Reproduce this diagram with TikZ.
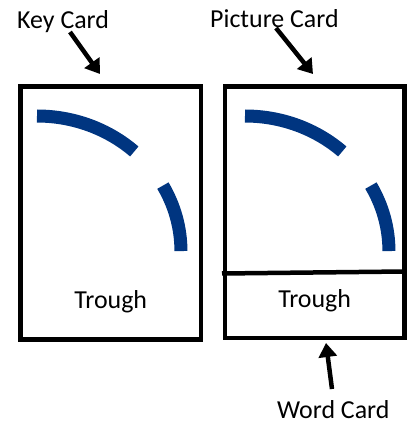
\documentclass[tikz,border=0pt]{standalone}
\usepackage{fontspec}
\setmainfont{Carlito}
\usetikzlibrary{arrows.meta}
\definecolor{troughblue}{RGB}{0,53,128}
\tikzset{x=1bp, y=1bp,
    card/.style={draw, line width=4.5bp, inner sep=0pt},
    label text/.style={inner sep=0pt, font=\fontsize{26}{31}\selectfont},
    pointer/.style={line width=4.5bp, -{Triangle[length=14bp,width=18bp]}},
    arcline/.style={troughblue, line width=13bp},
    }
\begin{document}
\begin{tikzpicture}
\useasboundingbox (0,0) rectangle (411,423);
% the two cards
\node[card, minimum width=180.5bp, minimum height=253bp] (key) at (110.75,210) {};
\node[card, minimum width=179.5bp, minimum height=251.5bp] (picture) at (314.75,210.75) {};
\draw[line width=4.5bp] (222,149.5) -- (404.5,151.5);
% arcs
\foreach \dx in {0,208}{
	\draw[arcline] (37+\dx,307) arc[start angle=90, end angle=47.5, x radius=144, y radius=135];
	\draw[arcline] (162.9+\dx,237.4) arc[start angle=29, end angle=0, x radius=144, y radius=135];
}
% texts
\node[label text, anchor=base] (keyword) at (110.75,115) {Trough};
\node[label text, anchor=base] (cardword) at (314.7,116) {Trough};
\node[label text, anchor=base west] (keylabel) at (17,394) {Key Card};
\node[label text, anchor=base west] (piclabel) at (210,395) {Picture Card};
\node[label text, anchor=base west] (wordlabel) at (277,5) {Word Card};
% arrows
\coordinate (keytail) at (70,391);
\coordinate (keytip) at (100,349);
\coordinate (pictail) at (276,395);
\coordinate (pictip) at (313,349);
\coordinate (wordtail) at (332,34);
\coordinate (wordtip) at (326,80);
\draw[pointer] (keytail) -- (keytip);
\draw[pointer] (pictail) -- (pictip);
\draw[pointer] (wordtail) -- (wordtip);
\end{tikzpicture}
\end{document}
